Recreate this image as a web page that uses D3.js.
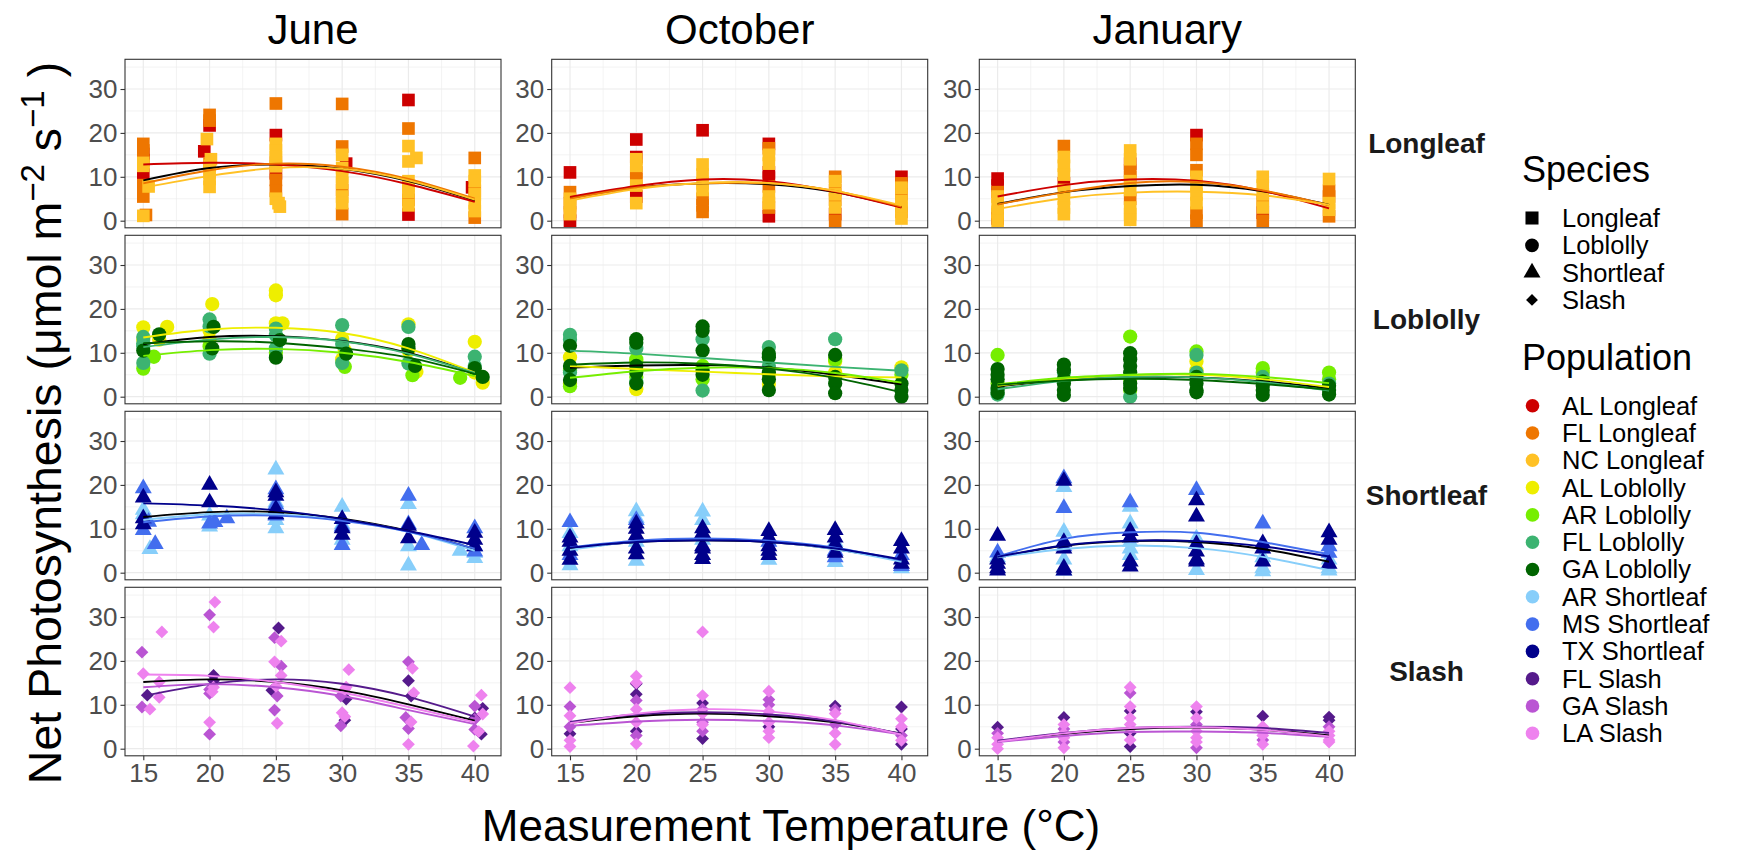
<!DOCTYPE html>
<html>
<head>
<meta charset="utf-8">
<script src="https://cdn.jsdelivr.net/npm/d3@7"></script>
<style>
  body { margin: 0; background: #fff; }
  svg { display: block; font-family: "Liberation Sans", Arial, sans-serif; }
</style>
</head>
<body>
<svg id="chart" width="1743" height="852"></svg>
<script>
// ---- data ----
var months = ["June", "October", "January"]
var species = ["Longleaf", "Loblolly", "Shortleaf", "Slash"]
var populations = ["AL Longleaf", "FL Longleaf", "NC Longleaf", "AL Loblolly", "AR Loblolly", "FL Loblolly", "GA Loblolly",
    "AR Shortleaf", "MS Shortleaf", "TX Shortleaf", "FL Slash", "GA Slash", "LA Slash"]
var popColors = ["#CD0000", "#EE7600", "#FFC125", "#EEEE00", "#76EE00", "#3CB371", "#006400",
    "#87CEFA", "#436EEE", "#00008B", "#551A8B", "#BA55D3", "#EE82EE"]
var tempTicks = [15, 20, 25, 30, 35, 40]
var yTicks = [0, 10, 20, 30]
var fitTemps = [15, 20, 25, 30, 35, 40]

// points: [population prefix, temperature, net photosynthesis]
var junLongleafPts = [["FL",15,17.5],["FL",15,16],["AL",15,15.2],["NC",15,13.2],["AL",15,13.8],["NC",15,12.5],["AL",15,10.6],["FL",15,8.1],["NC",15.4,7.8],["FL",15,5.5],["FL",15.2,1.3],["NC",15,1.1],
    ["FL",20,24.1],["FL",20,22.8],["AL",20,21.7],["NC",19.8,18.6],["AL",19.6,15.8],["NC",20.1,14],["FL",20,13],["NC",20,12.5],["NC",20,11],["NC",20,9.5],["NC",20,7.7],
    ["FL",25,26.7],["AL",25,19.5],["NC",25,17.5],["NC",25,16],["NC",25,14.5],["FL",25,13.2],["NC",25,12.4],["AL",25,10.8],["FL",25,9.3],["FL",25,6.8],["NC",25,5],["NC",25.2,4],["NC",25.3,3.2],
    ["FL",30,26.6],["FL",30,16.9],["NC",30,15],["AL",30.3,13],["NC",30,12],["NC",30,10],["NC",30,8.6],["FL",30,7],["NC",30,5.5],["NC",30,4],["FL",30,1.5],
    ["AL",35,27.5],["FL",35,21],["NC",35,17],["NC",35.6,14.3],["NC",35,13.5],["NC",35,9],["NC",35,7.8],["NC",35,6.5],["FL",35,4.8],["NC",35,3.5],["AL",35,1.4],
    ["FL",40,14.3],["NC",40,10.3],["NC",40,9],["AL",39.8,7.6],["FL",40,6.8],["NC",40,6],["NC",40,4],["NC",40,2.2],["FL",40,0.7]]
var octLongleafPts = [["AL",15,11],["FL",15,6.5],["NC",15,5],["FL",15,4],["NC",15,3.5],["FL",15,2],["NC",15,1.5],["AL",15,0],
    ["AL",20,18.5],["AL",20,14.5],["NC",20,14],["NC",20,12.5],["FL",20,11],["FL",20,9.5],["NC",20,8],["AL",20,5.5],["NC",20,4],
    ["AL",25,20.6],["NC",25,12.8],["NC",25,10.5],["NC",25,8.5],["NC",25,7],["FL",25,5],["FL",25,3.5],["FL",25,2],
    ["AL",30,17.5],["FL",30,16.5],["NC",30,15],["NC",30,13],["AL",30,11],["AL",30,9.8],["FL",30,7.8],["NC",30,5.5],["NC",30,4],["FL",30,3],["AL",30,1],
    ["FL",35,10],["NC",35,9],["FL",35,7],["NC",35,6],["FL",35,4.8],["NC",35,3],["AL",35,1.5],["FL",35,0],
    ["AL",40,10],["FL",40,8.5],["NC",40,7.5],["FL",40,6],["NC",40,4.5],["NC",40,3],["FL",40,2],["NC",40,0.5]]
var janLongleafPts = [["AL",15,9.6],["AL",15,8],["FL",15,6.5],["NC",15,5.5],["NC",15,3.5],["NC",15,2],["FL",15,1.5],["AL",15,0.5],["NC",15,0],
    ["FL",20,17],["NC",20,14.5],["NC",20,12.5],["NC",20,10.5],["AL",20,8.5],["NC",20,7],["NC",20,5],["NC",20,3],["NC",20,1.5],
    ["NC",25,16],["NC",25,14],["AL",25,13],["FL",25,11.5],["FL",25,10],["NC",25,9],["NC",25,7],["FL",25,5],["NC",25,3],["NC",25,1.5],["NC",25,0.2],
    ["AL",30,19.5],["FL",30,17.5],["FL",30,15],["FL",30,11.5],["NC",30,10],["NC",30,8],["NC",30,6],["NC",30,4],["FL",30,1.8],["FL",30,0],
    ["NC",35,10],["NC",35,8],["NC",35,6],["FL",35,4.5],["NC",35,3],["AL",35,1.8],["FL",35,0],
    ["NC",40,9.5],["FL",40,6.8],["FL",40,5.5],["NC",40,4],["NC",40,2.5],["FL",40,1]]

var junLoblollyPts = [["AL",15,15.8],["FL",15,13.6],["AL",15,13],["FL",15,12.2],["FL",15,11.5],["GA",15,10.5],["FL",15,7.7],["AR",15,6.4],["GA",16.2,14.2],["AL",16.2,13],["AR",15.8,9.1],["AL",16.8,15.9],
    ["AL",20.2,21.1],["FL",20,17.6],["FL",20,16],["GA",20.3,15.9],["AL",20,15],["AL",20,13],["AR",20,11.5],["GA",20.2,11],["FL",20,9.8],
    ["AL",25,24.2],["AL",25,23.1],["AL",25,16.7],["AL",25.5,16.7],["FL",25,15.5],["FL",25,14],["GA",25.3,12.9],["FL",25,11],["AR",25,10],["GA",25,8.9],
    ["FL",30,16.3],["AL",30,13.2],["FL",30,12],["AL",30.2,10.5],["GA",30.3,9.8],["AL",30,8.5],["FL",30,7.7],["AR",30.2,6.8],
    ["AL",35,16.5],["FL",35,15.9],["GA",35,12],["GA",35,11],["AL",35,10.5],["FL",35,7.6],["GA",35.5,7],["AL",35.6,5.7],["AR",35.3,4.9],["AR",38.9,4.3],
    ["AL",40,12.5],["FL",40,9.1],["FL",40,7],["GA",40,6.5],["AL",40,5.5],["GA",40.6,4.5],["AL",40.6,3.2]]
var octLoblollyPts = [["FL",15,14.1],["FL",15,13],["GA",15,11.6],["AL",15,9],["GA",15,7],["AR",15,6],["FL",15,5.5],["GA",15,3.8],["AL",15,3],["AR",15,2.4],
    ["GA",20,13.1],["GA",20,12.3],["FL",20,11],["AR",20,8.5],["AL",20,8],["GA",20,7],["GA",20,5.5],["AR",20,4.5],["FL",20,3.3],["GA",20,3],["AL",20,1.7],
    ["GA",25,16],["GA",25,15],["FL",25,13.1],["GA",25,10.5],["AR",25,7],["GA",25,6],["GA",25,5],["AR",25,4],["FL",25,1.4],
    ["FL",30,11.3],["GA",30,9.8],["GA",30,9],["FL",30,7],["GA",30,5.5],["AL",30,5],["GA",30,4],["AL",30,2.9],["GA",30,1.5],
    ["FL",35,13.1],["GA",35,9.5],["AR",35,8.5],["AL",35,8],["AL",35,5.5],["GA",35,4.5],["GA",35,3],["GA",35,0.8],
    ["AL",40,6.7],["FL",40,6],["AR",40,5],["GA",40,3],["GA",40,1.5],["GA",40,0]]
var janLoblollyPts = [["AR",15,9.5],["GA",15,6.3],["GA",15,5],["GA",15,4],["AR",15,3],["GA",15,2],["FL",15,1.5],["GA",15,0.9],["FL",15,0.5],
    ["GA",20,7.3],["GA",20,6],["FL",20,5.5],["GA",20,4],["GA",20,3],["GA",20,1.5],["GA",20,0.4],
    ["AR",25,13.7],["GA",25,9.9],["GA",25,8.5],["GA",25,7],["GA",25,5.5],["AR",25,4],["GA",25,3],["GA",25,2],["AR",25,1.5],["FL",25,0],
    ["AR",30,10.3],["FL",30,9.5],["AL",30,8],["AL",30,6],["FL",30,5.5],["GA",30,4.5],["GA",30,3],["GA",30,1.5],["GA",30,1],
    ["AR",35,6.5],["AR",35,5.5],["FL",35,4.5],["GA",35,3.5],["GA",35,2.5],["GA",35,1.5],["GA",35,0.4],
    ["AR",40,5.5],["AR",40,4],["FL",40,3],["GA",40,2.5],["GA",40,1.5],["GA",40,0.5]]

var junShortleafPts = [["MS",15,19.2],["TX",15,17.1],["AR",15,14.3],["AR",15,13.3],["TX",15,12.4],["MS",15.4,11.6],["TX",15,11],["MS",15,9.7],["AR",15.5,5.4],["MS",15.9,6.5],
    ["TX",20,20],["TX",20,16],["AR",20,13],["MS",20,11.2],["AR",20,10.5],["MS",20.4,11.5],["MS",21.3,12.4],
    ["AR",25,23.5],["MS",25,19],["TX",25,18.3],["TX",25,17.5],["AR",25,16],["MS",25,15.5],["TX",25,14.5],["TX",25,13.3],["MS",25,13],["AR",25,12],["AR",25,10.1],
    ["AR",30,15],["TX",30,12.2],["AR",30,11],["MS",30,10.5],["TX",30,10.1],["TX",30,8.6],["AR",30,7.5],["MS",30,6.3],
    ["MS",35,17.5],["AR",35,15.6],["MS",35,11],["TX",35,10.7],["TX",35,7.8],["AR",35,6],["MS",36,6.3],["AR",35,1.6],["AR",38.9,5],
    ["MS",40,10.1],["TX",40,9.1],["TX",40,7.5],["MS",40,6],["TX",40,6],["MS",40,4.8],["AR",40,4.5],["AR",40,3.3]]
var octShortleafPts = [["MS",15,11.5],["AR",15,9],["TX",15,8],["TX",15,7],["AR",15,6],["TX",15,5],["MS",15,4],["TX",15,2.9],["AR",15,1.7],
    ["AR",20,14],["AR",20,12.5],["MS",20,12],["TX",20,11.2],["TX",20,10],["TX",20,8.5],["AR",20,7],["TX",20,5.5],["TX",20,4.2],["AR",20,2.7],
    ["AR",25,13.9],["AR",25,12],["TX",25,10.1],["TX",25,9],["AR",25,7.5],["TX",25,6],["TX",25,5.5],["TX",25,4],["TX",25,3.1],
    ["TX",30,9.5],["TX",30,8],["MS",30,7],["TX",30,6],["TX",30,5],["TX",30,4],["AR",30,2.9],
    ["TX",35,9.7],["TX",35,8],["AR",35,7],["TX",35,6.5],["MS",35,5],["TX",35,4.5],["MS",35,3.5],["AR",35,2.4],
    ["TX",40,7.2],["TX",40,5.5],["MS",40,4],["TX",40,3],["TX",40,2],["MS",40,1.5],["AR",40,1]]
var janShortleafPts = [["TX",15,8.4],["MS",15,4.6],["AR",15,3.5],["TX",15,3],["TX",15,2],["TX",15,1],["TX",15,0.5],
    ["MS",20,21.5],["TX",20,20.9],["AR",20,19.5],["MS",20,14.7],["AR",20,9.3],["TX",20,7],["MS",20,6],["TX",20,5.5],["AR",20,3],["TX",20,1.1],["TX",20,0.5],["AR",20,0.5],
    ["MS",25,16],["AR",25,15],["AR",25,11.2],["TX",25,9.5],["TX",25,8],["AR",25,7],["AR",25,5.5],["AR",25,4],["TX",25,2.5],["TX",25,1.4],
    ["MS",30,18.8],["TX",30,16.5],["TX",30,12.8],["AR",30,7.8],["TX",30,6.5],["TX",30,4.8],["TX",30,3],["TX",30,2.5],["AR",30,0.6],
    ["MS",35,11.2],["TX",35,6.7],["TX",35,5.5],["AR",35,3.5],["TX",35,2.5],["AR",35,1],["AR",35,0.3],
    ["TX",40,9.2],["TX",40,7.5],["MS",40,6],["MS",40,4.5],["AR",40,3],["TX",40,2],["AR",40,1],["AR",40,0.5]]

var junSlashPts = [["GA",14.9,22],["LA",15,17.1],["FL",15.3,12.2],["GA",14.9,9.5],["LA",15.5,9],["LA",16.4,26.6],["LA",16.2,15.2],["LA",16.2,11.7],
    ["GA",20,30.5],["LA",20.4,33.4],["LA",20.3,27.7],["FL",20.3,16.7],["FL",20.3,15.5],["GA",20,13.5],["LA",20.2,13],["GA",20,12.6],["LA",20.3,14],["LA",20,6],["GA",20,3.3],
    ["FL",25.2,27.5],["GA",24.9,25.3],["LA",25.4,24.5],["LA",24.9,19.8],["GA",25.4,18.8],["LA",25.4,16.7],["LA",25,14.2],["FL",24.7,13.3],["GA",25.1,12],["GA",24.9,8.8],["LA",25.1,5.8],
    ["LA",30.5,18],["LA",30.3,14],["LA",30.2,13.5],["GA",29.9,12],["FL",30.3,11.3],["LA",30,8.2],["LA",30.2,7.3],["FL",30.2,6.5],["GA",29.9,5.2],
    ["GA",35,19.8],["LA",35.3,18.3],["FL",35,15.5],["LA",35.4,12.7],["FL",35.2,12],["GA",34.8,7.1],["LA",35.2,6.1],["GA",35,4.6],["LA",35,1],
    ["LA",40.5,12.2],["GA",40,9.7],["FL",40.6,9.2],["LA",40.6,7.9],["FL",40,7],["GA",40,6.7],["GA",40,4.4],["LA",40.3,3.9],["FL",40.5,3.3],["LA",39.9,0.6]]
var octSlashPts = [["LA",15,13.9],["GA",15,9.6],["LA",15,7.5],["GA",15,5],["FL",15,3.4],["LA",15,1.9],["LA",15,0.5],
    ["LA",20,16.5],["LA",20,15],["FL",20,14.8],["FL",20,12.4],["GA",20,11],["LA",20,9],["LA",20,6],["FL",20,4],["GA",20,3],["LA",20,1.1],
    ["LA",25,26.6],["LA",25,12.1],["FL",25,10.4],["GA",25,9],["LA",25,8],["GA",25,6],["LA",25,5.5],["GA",25,4],["FL",25,2.3],
    ["LA",30,13.1],["GA",30,11.2],["GA",30,10],["LA",30,8.5],["LA",30,6],["FL",30,5],["LA",30,4],["LA",30,2.5],
    ["FL",35,9.7],["GA",35,8.9],["LA",35,8],["GA",35,5.5],["LA",35,3.5],["LA",35,1],
    ["FL",40,9.5],["LA",40,6.8],["LA",40,5],["FL",40,4.5],["GA",40,3],["LA",40,1.9],["FL",40,1]]
var janSlashPts = [["FL",15,4.9],["GA",15,3.5],["LA",15,2.5],["LA",15,1],["LA",15,0],
    ["FL",20,7.1],["LA",20,5.5],["GA",20,4.5],["LA",20,3.5],["LA",20,2.5],["GA",20,1.5],["LA",20,0.2],
    ["LA",25,14],["GA",25,12.7],["LA",25,9.6],["FL",25,8.6],["LA",25,7],["LA",25,5.5],["LA",25,4.5],["FL",25,3.5],["LA",25,2],["FL",25,0.5],
    ["LA",30,9.6],["FL",30,8.4],["LA",30,7],["GA",30,5.5],["LA",30,4],["LA",30,2.5],["LA",30,1.5],["GA",30,0.2],
    ["FL",35,7.4],["LA",35,5],["LA",35,4],["LA",35,3],["GA",35,2],["LA",35,1],
    ["FL",40,7.2],["FL",40,6.5],["GA",40,5],["LA",40,4],["LA",40,3],["LA",40,2],["LA",40,1.5]]

// fitted curves read at fitTemps: [population prefix or "all", values...]
var junLongleafFit = [["all",9.2,12,12.8,11.8,9,4.6],["AL",12.8,13.2,12.8,11.3,8.3,4.3],["FL",8.5,11.5,13,12.3,9.5,5],["NC",7.5,10.2,12,11.8,9.2,4.8]]
var octLongleafFit = [["all",5.2,7.5,8.5,8.3,6.5,3.1],["AL",5.4,7.9,9.4,9,6.6,3],["FL",5,7.5,8.5,8.5,6.8,3.2],["NC",4.6,7.2,8.6,8.6,6.8,3.5]]
var janLongleafFit = [["all",3.8,6.5,7.9,8.2,6.7,3.6],["AL",5.5,8.1,9.4,9.1,6.8,2.8],["FL",3.7,6.5,8.6,8.8,6.9,3.5],["NC",2.7,5.1,6.4,6.6,5.8,3.6]]
var junLoblollyFit = [["all",12,13.6,13.8,12.7,10,5.5],["AL",13.5,15.3,15.7,14.5,11,5.5],["AR",9.3,10.6,10.9,10,7.9,4.7],["FL",11.3,13,13.6,12.6,9.8,5.4],["GA",12.2,12.6,12.3,11,8.9,5.2]]
var octLoblollyFit = [["all",6.6,7.1,7.2,6.6,5,2.8],["AL",7,6.3,5.7,5.1,4.6,4.4],["AR",4.3,5.8,6.6,6.5,5.4,3.2],["FL",10.5,9.8,8.8,7.8,6.8,5.9],["GA",7.3,7.8,7.5,6.4,4.3,1]]
var janLoblollyFit = [["all",2.3,3.8,4.5,4.4,3.5,1.9],["AL",2.5,4,4.9,5,4,2.2],["AR",2.8,4.3,5,5.2,4.5,3.1],["FL",1.7,3.6,4.5,4.4,3.3,1.4],["GA",2.7,3.7,4.1,3.8,2.9,1.6]]
var junShortleafFit = [["all",12.7,13.8,13.8,12.3,9.5,5.4],["AR",12,13.3,13.3,12,9.3,5],["MS",11.5,12.8,13,11.8,9.3,5.5],["TX",15.8,15.3,14.2,12.2,9.5,6.3]]
var octShortleafFit = [["all",5.5,7,7.4,7,5.4,2.8],["AR",5.2,7.1,7.7,7.1,5.3,2.5],["MS",5.8,7.3,7.8,7.3,5.7,2.8],["TX",5.7,7,7.4,7,5.5,3]]
var janShortleafFit = [["all",3.5,6.1,7.2,7,5.4,2.5],["AR",3.5,5.4,6.2,5.6,3.6,0.6],["MS",3.7,7.7,9.2,9.1,7,4.2],["TX",3.6,6.2,7.3,7.2,6,3.7]]
var junSlashFit = [["all",15.2,15.8,15.2,13.3,10.1,6.4],["FL",12,14.7,15.8,14.8,11.8,7.3],["GA",14,14.7,14,12,8.8,5.6],["LA",16.9,16.6,15.2,12.8,9.5,6]]
var octSlashFit = [["all",5.9,7.4,8,7.4,6,3.4],["FL",6.1,7.8,8.3,7.8,6.2,3.4],["GA",5.2,6.2,6.6,6.3,5.3,3.2],["LA",5.8,8,9,8.5,6.5,3.2]]
var janSlashFit = [["all",1.6,3.4,4.5,4.8,4.3,3],["FL",1.8,3.6,4.7,5,4.7,3.6],["GA",1.5,2.9,3.8,3.9,3.6,2.7],["LA",1.6,3.5,4.7,4.9,4.3,2.8]]

// panel table, rows = species, cols = months
var panelPts = [[junLongleafPts, octLongleafPts, janLongleafPts], [junLoblollyPts, octLoblollyPts, janLoblollyPts],
    [junShortleafPts, octShortleafPts, janShortleafPts], [junSlashPts, octSlashPts, janSlashPts]]
var panelFits = [[junLongleafFit, octLongleafFit, janLongleafFit], [junLoblollyFit, octLoblollyFit, janLoblollyFit],
    [junShortleafFit, octShortleafFit, janShortleafFit], [junSlashFit, octSlashFit, janSlashFit]]

// ---- layout ----
var panelLeft = [125, 551.7, 979.3],
    panelTop = [59.3, 235.3, 411.3, 587.3],
    panelW = 376,
    panelH = 168.5

var x = d3.scaleLinear().domain([13.62, 41.98]).range([0, panelW])
var y = d3.scaleLinear().domain([-1.62, 36.77]).range([panelH, 0])
var color = d3.scaleOrdinal().domain(populations).range(popColors)

var shapes = {
    Longleaf: { type: d3.symbolSquare, size: 160, rot: 0 },
    Loblolly: { type: d3.symbolCircle, size: 160, rot: 0 },
    Shortleaf: { type: d3.symbolTriangle, size: 125, rot: 0 },
    Slash: { type: d3.symbolSquare, size: 82, rot: 45 }
}

var svg = d3.select("#chart")
svg.append("rect").attr("width", 1743).attr("height", 852).attr("fill", "#fff")

var line = d3.line()
    .x(function(d) { return x(d[0]) })
    .y(function(d) { return y(d[1]) })
    .curve(d3.curveNatural)

species.forEach(function(sp, r) {
    months.forEach(function(mo, c) {
        var g = svg.append("g")
            .attr("transform", "translate(" + panelLeft[c] + "," + panelTop[r] + ")")

        g.append("rect").attr("width", panelW).attr("height", panelH).attr("fill", "#fff")

        // minor grid
        var xMinor = d3.range(17.5, 40, 5), yMinor = [5, 15, 25, 35]
        g.selectAll(".xminor").data(xMinor).enter().append("line")
            .attr("x1", d => x(d)).attr("x2", d => x(d)).attr("y1", 0).attr("y2", panelH)
            .attr("stroke", "#EBEBEB").attr("stroke-width", 0.6)
        g.selectAll(".yminor").data(yMinor).enter().append("line")
            .attr("y1", d => y(d)).attr("y2", d => y(d)).attr("x1", 0).attr("x2", panelW)
            .attr("stroke", "#EBEBEB").attr("stroke-width", 0.6)
        // major grid
        g.selectAll(".xmajor").data(tempTicks).enter().append("line")
            .attr("x1", d => x(d)).attr("x2", d => x(d)).attr("y1", 0).attr("y2", panelH)
            .attr("stroke", "#EBEBEB").attr("stroke-width", 1.2)
        g.selectAll(".ymajor").data(yTicks).enter().append("line")
            .attr("y1", d => y(d)).attr("y2", d => y(d)).attr("x1", 0).attr("x2", panelW)
            .attr("stroke", "#EBEBEB").attr("stroke-width", 1.2)

        // points, drawn in population order
        var shp = shapes[sp]
        var pts = panelPts[r][c].slice().sort(function(a, b) {
            return populations.indexOf(a[0] + " " + sp) - populations.indexOf(b[0] + " " + sp)
        })
        g.append("g").selectAll("path")
            .data(pts)
            .enter().append("path")
            .attr("d", d3.symbol().type(shp.type).size(shp.size))
            .attr("transform", function(d) { return "translate(" + x(d[1]) + "," + y(d[2]) + ") rotate(" + shp.rot + ")" })
            .attr("fill", function(d) { return color(d[0] + " " + sp) })

        // fitted curves: overall (black) first, then populations
        var fits = panelFits[r][c]
        g.append("g").selectAll("path")
            .data(fits)
            .enter().append("path")
            .attr("d", function(d) { return line(fitTemps.map(function(t, i) { return [t, d[i + 1]] })) })
            .attr("fill", "none")
            .attr("stroke", function(d) { return d[0] === "all" ? "#000" : color(d[0] + " " + sp) })
            .attr("stroke-width", 1.9)

        g.append("rect").attr("width", panelW).attr("height", panelH)
            .attr("fill", "none").attr("stroke", "#333333").attr("stroke-width", 1.1)

        // y axis
        var ya = g.append("g").call(d3.axisLeft(y).tickValues(yTicks).tickSize(4.5).tickPadding(3))
        ya.select(".domain").remove()
        ya.selectAll("line").attr("stroke", "#333333").attr("stroke-width", 1.1)
        ya.selectAll("text").attr("fill", "#4D4D4D").style("font-size", "26px").style("font-family", "Liberation Sans, Arial, sans-serif")

        // x axis on bottom row
        if (r === species.length - 1) {
            var xa = g.append("g").attr("transform", "translate(0," + panelH + ")")
                .call(d3.axisBottom(x).tickValues(tempTicks).tickSize(4.5).tickPadding(3))
            xa.select(".domain").remove()
            xa.selectAll("line").attr("stroke", "#333333").attr("stroke-width", 1.1)
            xa.selectAll("text").attr("fill", "#4D4D4D").style("font-size", "26px").style("font-family", "Liberation Sans, Arial, sans-serif")
        }

        // month title
        if (r === 0) {
            svg.append("text")
                .attr("x", panelLeft[c] + panelW / 2).attr("y", 44)
                .attr("text-anchor", "middle").style("font-size", "42px").attr("fill", "#000")
                .text(mo)
        }
        // species strip label
        if (c === months.length - 1) {
            svg.append("text")
                .attr("x", 1426.5).attr("y", panelTop[r] + panelH / 2)
                .attr("dy", "0.35em").attr("text-anchor", "middle")
                .style("font-size", "28px").style("font-weight", "bold").attr("fill", "#1A1A1A")
                .text(sp)
        }
    })
})

// axis titles
svg.append("text")
    .attr("x", 791).attr("y", 841)
    .attr("text-anchor", "middle").style("font-size", "44px")
    .text("Measurement Temperature (°C)")

var yt = svg.append("text")
    .attr("transform", "translate(61,423) rotate(-90)")
    .attr("text-anchor", "middle").style("font-size", "46.5px")
yt.append("tspan").text("Net Photosynthesis (μmol m")
yt.append("tspan").attr("dy", -17).style("font-size", "33px").text("−2")
yt.append("tspan").attr("dy", 17).text(" s")
yt.append("tspan").attr("dy", -17).style("font-size", "33px").text("−1")
yt.append("tspan").attr("dy", 17).text(" )")

// legends
var leg = svg.append("g").attr("transform", "translate(1522,0)")
leg.append("text").attr("x", 0).attr("y", 182).style("font-size", "36px").text("Species")
var spItems = leg.selectAll(".sp").data(species).enter().append("g")
    .attr("transform", function(d, i) { return "translate(0," + (218 + i * 27.3) + ")" })
spItems.append("path")
    .attr("d", function(d) {
        var sizes = { Longleaf: 170, Loblolly: 150, Shortleaf: 125, Slash: 70 }
        return d3.symbol().type(shapes[d].type).size(sizes[d])()
    })
    .attr("transform", function(d) { return "translate(10,0) rotate(" + shapes[d].rot + ")" })
    .attr("fill", "#000")
spItems.append("text").attr("x", 40).attr("dy", "0.35em").style("font-size", "25.5px").text(d => d)

leg.append("text").attr("x", 0).attr("y", 370).style("font-size", "36px").text("Population")
var popItems = leg.selectAll(".pop").data(populations).enter().append("g")
    .attr("transform", function(d, i) { return "translate(0," + (405.7 + i * 27.3) + ")" })
popItems.append("circle").attr("cx", 10.5).attr("r", 6.8).attr("fill", d => color(d))
popItems.append("text").attr("x", 40).attr("dy", "0.35em").style("font-size", "25.5px").text(d => d)
</script>
</body>
</html>
